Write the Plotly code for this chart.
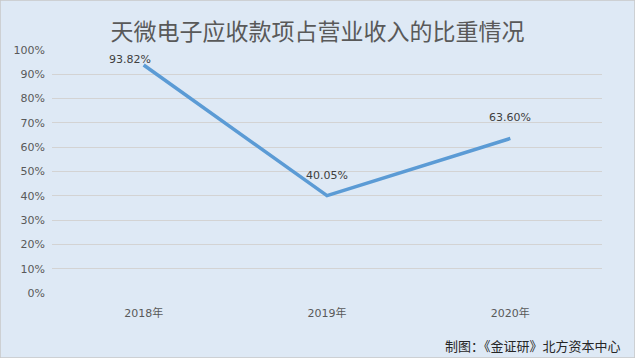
import plotly.graph_objects as go

categories = ["2018年", "2019年", "2020年"]
values = [93.82, 40.05, 63.60]
labels = ["93.82%", "40.05%", "63.60%"]
label_xshift = [-14, 0, 0]
label_yshift = [6, 20, 21]
y_ticks = list(range(0, 101, 10))
y_ticklabels = [f"{t}%" for t in y_ticks]

title = "天微电子应收款项占营业收入的比重情况"
source = "制图：《金证研》北方资本中心"

cjk_font = "Noto Sans CJK SC, Noto Sans, sans-serif"
num_font = "DejaVu Sans, Noto Sans CJK SC, sans-serif"
bg = "#DEE9F5"

fig = go.Figure()
fig.add_trace(go.Scatter(
    x=categories, y=values, mode="lines",
    line=dict(color="#5B9BD5", width=3.5),
    hoverinfo="skip", showlegend=False,
))

for c, v, t, dx, dy in zip(categories, values, labels, label_xshift, label_yshift):
    fig.add_annotation(x=c, y=v, text=t, showarrow=False,
                       xshift=dx, yshift=dy,
                       font=dict(family=num_font, size=11, color="#404040"))

fig.add_annotation(xref="paper", yref="paper", x=1.038, y=-0.215,
                   xanchor="right", yanchor="middle", text=source, showarrow=False,
                   font=dict(family=cjk_font, size=13, color="#262626"))

fig.update_layout(
    width=635, height=358,
    paper_bgcolor=bg, plot_bgcolor=bg,
    margin=dict(l=52, r=33, t=50, b=65),
    title=dict(text=title, x=0.5, xanchor="center", y=0.91, yanchor="middle",
               font=dict(family=cjk_font, size=23, color="#595959")),
    xaxis=dict(range=[-0.5, 2.5], showgrid=False, zeroline=False, showline=False,
               tickfont=dict(family=num_font, size=11, color="#595959"),
               ticks="", ticklabelstandoff=12),
    yaxis=dict(range=[0, 100], tickvals=y_ticks, ticktext=y_ticklabels,
               showgrid=True, gridcolor="#D3D3D3", gridwidth=1,
               zeroline=False, showline=False, ticks="",
               tickfont=dict(family=num_font, size=11, color="#595959"),
               ticklabelstandoff=6),
    shapes=[dict(type="rect", xref="paper", yref="paper",
                 x0=-52/550, x1=1+33/550, y0=-65/243, y1=1+50/243,
                 line=dict(color="#C8C8C8", width=1.5), fillcolor="rgba(0,0,0,0)")],
)

fig.write_html("out.html")
